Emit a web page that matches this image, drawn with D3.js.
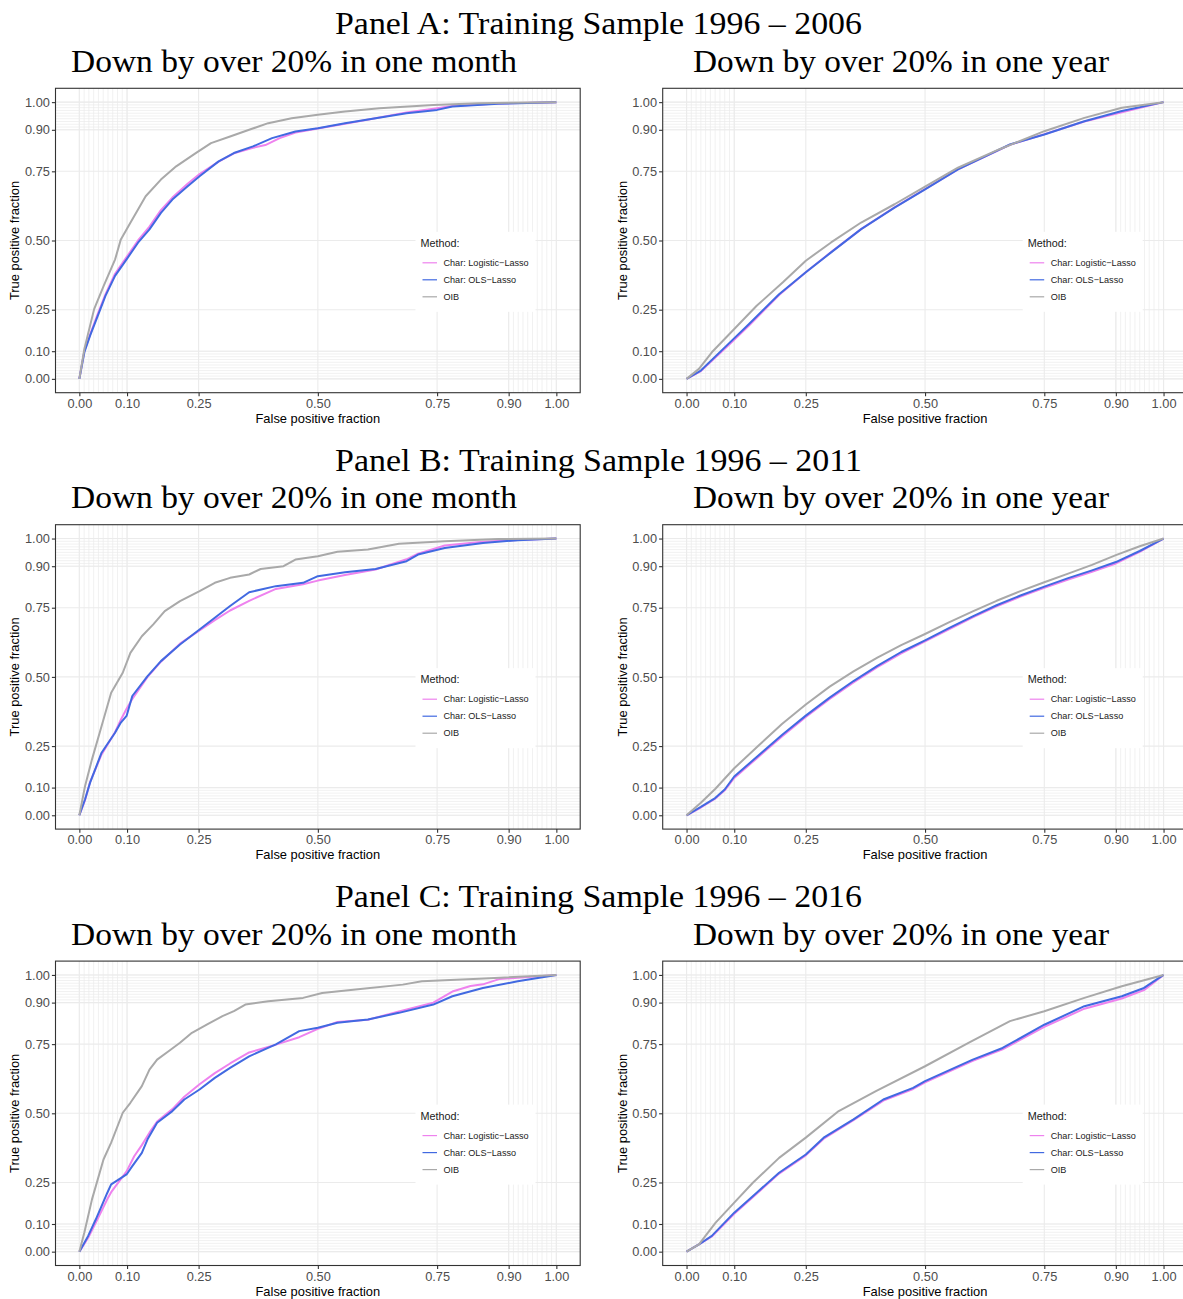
<!DOCTYPE html>
<html>
<head>
<meta charset="utf-8">
<script src="https://cdn.jsdelivr.net/npm/d3@7"></script>
<style>
  body { margin: 0; background: #fff; }
  svg { display: block; }
</style>
</head>
<body>
<svg id="canvas" width="1183" height="1299"></svg>
<script>
// tick positions used by plotROC's style
let majorBreaks = [0, 0.1, 0.25, 0.5, 0.75, 0.9, 1];
let majorLabels = ['0.00', '0.10', '0.25', '0.50', '0.75', '0.90', '1.00'];
let minorBreaks = [0, 0.01, 0.02, 0.03, 0.04, 0.05, 0.06, 0.07, 0.08, 0.09, 0.1,
                   0.9, 0.91, 0.92, 0.93, 0.94, 0.95, 0.96, 0.97, 0.98, 0.99, 1];

let panelTitles = ['Panel A: Training Sample 1996 \u2013 2006',
                   'Panel B: Training Sample 1996 \u2013 2011',
                   'Panel C: Training Sample 1996 \u2013 2016'];
let plotTitles = ['Down by over 20% in one month', 'Down by over 20% in one year'];

let methods = ['Char: Logistic\u2212Lasso', 'Char: OLS\u2212Lasso', 'OIB'];
let methodColors = ['#EE82EE', '#4169E1', '#A9A9A9'];

// [false positive fraction, true positive fraction]
let aMonthLogit = [[0,0],[0.0105,0.10],[0.0225,0.16],[0.0386,0.235],[0.0547,0.305],[0.0748,0.38],[0.099,0.44],[0.123,0.50],[0.147,0.55],[0.171,0.61],[0.195,0.655],[0.227,0.705],[0.252,0.74],[0.292,0.785],[0.324,0.815],[0.364,0.835],[0.39,0.845],[0.42,0.87],[0.453,0.89],[0.5,0.905],[0.557,0.922],[0.621,0.942],[0.686,0.963],[0.75,0.978],[0.782,0.986],[0.878,0.995],[1,1]];
let aMonthOls = [[0,0],[0.0105,0.096],[0.0225,0.156],[0.0386,0.228],[0.0547,0.30],[0.0748,0.372],[0.099,0.432],[0.123,0.492],[0.147,0.54],[0.171,0.60],[0.195,0.648],[0.227,0.696],[0.252,0.732],[0.292,0.786],[0.324,0.816],[0.364,0.84],[0.404,0.87],[0.453,0.894],[0.5,0.906],[0.557,0.924],[0.621,0.942],[0.686,0.96],[0.75,0.972],[0.782,0.984],[0.878,0.994],[1,1]];
let aMonthOib = [[0,0],[0.0105,0.108],[0.031,0.252],[0.051,0.336],[0.075,0.432],[0.087,0.504],[0.107,0.564],[0.139,0.66],[0.171,0.72],[0.203,0.768],[0.244,0.816],[0.276,0.852],[0.316,0.876],[0.356,0.90],[0.396,0.924],[0.445,0.942],[0.5,0.954],[0.557,0.966],[0.629,0.978],[0.742,0.99],[0.838,0.996],[1,1]];

let aYearLogit = [[0,0],[0.03,0.028],[0.084,0.115],[0.131,0.193],[0.194,0.303],[0.25,0.385],[0.303,0.458],[0.366,0.541],[0.436,0.62],[0.5,0.686],[0.569,0.757],[0.678,0.846],[0.75,0.884],[0.834,0.93],[0.9125,0.963],[1,1]];
let aYearOls = [[0,0],[0.03,0.03],[0.084,0.12],[0.131,0.198],[0.194,0.306],[0.25,0.385],[0.303,0.457],[0.366,0.541],[0.436,0.619],[0.5,0.685],[0.569,0.757],[0.678,0.847],[0.75,0.883],[0.834,0.931],[0.9125,0.968],[1,1]];
let aYearOib = [[0,0],[0.026,0.036],[0.053,0.096],[0.1,0.18],[0.147,0.264],[0.202,0.349],[0.25,0.427],[0.303,0.493],[0.366,0.565],[0.436,0.631],[0.5,0.695],[0.569,0.763],[0.655,0.829],[0.75,0.895],[0.834,0.943],[0.9125,0.98],[1,1]];

let bMonthLogit = [[0,0],[0.012,0.055],[0.0225,0.12],[0.0466,0.22],[0.0748,0.30],[0.087,0.345],[0.099,0.385],[0.111,0.42],[0.143,0.50],[0.171,0.555],[0.211,0.62],[0.252,0.668],[0.284,0.705],[0.316,0.74],[0.356,0.775],[0.412,0.818],[0.469,0.835],[0.5,0.848],[0.557,0.868],[0.621,0.888],[0.686,0.925],[0.71,0.945],[0.766,0.975],[0.846,0.988],[0.919,0.995],[1,1]];
let bMonthOls = [[0,0],[0.012,0.058],[0.0225,0.118],[0.0466,0.226],[0.0748,0.298],[0.087,0.335],[0.099,0.359],[0.111,0.431],[0.143,0.503],[0.171,0.557],[0.211,0.617],[0.252,0.671],[0.284,0.714],[0.316,0.756],[0.356,0.806],[0.412,0.828],[0.469,0.84],[0.5,0.864],[0.557,0.878],[0.621,0.89],[0.686,0.918],[0.71,0.942],[0.766,0.966],[0.846,0.984],[0.919,0.994],[1,1]];
let bMonthOib = [[0,0],[0.012,0.106],[0.0265,0.202],[0.0426,0.298],[0.0667,0.443],[0.091,0.515],[0.107,0.587],[0.131,0.647],[0.155,0.69],[0.179,0.738],[0.211,0.774],[0.252,0.81],[0.284,0.84],[0.316,0.858],[0.356,0.87],[0.38,0.89],[0.428,0.90],[0.453,0.924],[0.5,0.936],[0.541,0.952],[0.605,0.96],[0.67,0.981],[0.766,0.99],[0.878,0.998],[1,1]];

let bYearLogit = [[0,0],[0.03,0.028],[0.06,0.06],[0.08,0.09],[0.1,0.135],[0.15,0.21],[0.2,0.285],[0.25,0.355],[0.3,0.42],[0.35,0.48],[0.4,0.535],[0.45,0.585],[0.5,0.628],[0.55,0.672],[0.6,0.715],[0.65,0.755],[0.7,0.79],[0.75,0.822],[0.8,0.852],[0.85,0.88],[0.9,0.91],[0.95,0.952],[1,1]];
let bYearOls = [[0,0],[0.03,0.03],[0.06,0.062],[0.08,0.093],[0.1,0.14],[0.15,0.215],[0.2,0.29],[0.25,0.36],[0.3,0.425],[0.35,0.485],[0.4,0.54],[0.45,0.59],[0.5,0.632],[0.55,0.676],[0.6,0.719],[0.65,0.759],[0.7,0.794],[0.75,0.826],[0.8,0.857],[0.85,0.885],[0.9,0.915],[0.95,0.955],[1,1]];
let bYearOib = [[0,0],[0.03,0.045],[0.06,0.095],[0.1,0.17],[0.15,0.25],[0.2,0.33],[0.25,0.40],[0.3,0.465],[0.35,0.52],[0.4,0.57],[0.45,0.615],[0.5,0.655],[0.55,0.697],[0.6,0.737],[0.65,0.775],[0.7,0.81],[0.75,0.842],[0.8,0.873],[0.85,0.905],[0.9,0.94],[0.95,0.972],[1,1]];

let cMonthLogit = [[0,0],[0.0185,0.05],[0.0346,0.105],[0.0587,0.19],[0.0667,0.215],[0.099,0.29],[0.115,0.345],[0.131,0.385],[0.147,0.43],[0.163,0.47],[0.195,0.515],[0.22,0.56],[0.252,0.605],[0.284,0.645],[0.316,0.68],[0.356,0.72],[0.412,0.748],[0.461,0.775],[0.5,0.805],[0.541,0.83],[0.605,0.838],[0.67,0.868],[0.742,0.9],[0.782,0.94],[0.82,0.96],[0.846,0.966],[0.88,0.985],[0.919,0.99],[1,1]];
let cMonthOls = [[0,0],[0.0185,0.057],[0.0346,0.117],[0.0587,0.213],[0.0667,0.243],[0.099,0.279],[0.111,0.309],[0.131,0.357],[0.143,0.406],[0.163,0.466],[0.195,0.508],[0.22,0.55],[0.252,0.586],[0.284,0.628],[0.316,0.664],[0.356,0.706],[0.412,0.749],[0.461,0.797],[0.5,0.809],[0.541,0.827],[0.605,0.839],[0.67,0.863],[0.742,0.893],[0.782,0.923],[0.846,0.953],[0.919,0.977],[1,1]];
let cMonthOib = [[0,0],[0.0105,0.069],[0.0265,0.189],[0.0506,0.333],[0.0667,0.394],[0.091,0.502],[0.107,0.538],[0.131,0.598],[0.147,0.658],[0.163,0.694],[0.187,0.724],[0.211,0.755],[0.236,0.791],[0.268,0.821],[0.30,0.851],[0.324,0.869],[0.348,0.893],[0.396,0.905],[0.469,0.917],[0.509,0.935],[0.589,0.949],[0.678,0.965],[0.718,0.977],[0.838,0.986],[1,1]];

let cYearLogit = [[0,0],[0.026,0.026],[0.053,0.055],[0.1,0.137],[0.147,0.209],[0.194,0.282],[0.25,0.348],[0.2875,0.408],[0.35,0.475],[0.4125,0.546],[0.475,0.588],[0.5,0.612],[0.6,0.69],[0.6625,0.731],[0.75,0.812],[0.834,0.878],[0.9125,0.915],[0.959,0.945],[1,1]];
let cYearOls = [[0,0],[0.026,0.026],[0.053,0.057],[0.1,0.141],[0.147,0.213],[0.194,0.285],[0.25,0.351],[0.2875,0.412],[0.35,0.478],[0.4125,0.55],[0.475,0.592],[0.5,0.616],[0.6,0.694],[0.6625,0.736],[0.75,0.82],[0.834,0.887],[0.9125,0.923],[0.959,0.953],[1,1]];
let cYearOib = [[0,0],[0.026,0.026],[0.061,0.105],[0.1,0.177],[0.139,0.249],[0.194,0.339],[0.25,0.412],[0.319,0.508],[0.397,0.58],[0.5,0.67],[0.592,0.755],[0.678,0.833],[0.75,0.869],[0.834,0.917],[0.9125,0.959],[1,1]];

let rows = [
  [[aMonthLogit, aMonthOls, aMonthOib], [aYearLogit, aYearOls, aYearOib]],
  [[bMonthLogit, bMonthOls, bMonthOib], [bYearLogit, bYearOls, bYearOib]],
  [[cMonthLogit, cMonthOls, cMonthOib], [cYearLogit, cYearOls, cYearOib]]
];

let canvas = d3.select('#canvas');
canvas.append('rect').attr('width', 1183).attr('height', 1299).attr('fill', '#fff');

let rowStep = 436.4;
let panelLefts = [55.5, 662.7];
let panelW = 524.7;
let panelH = 304.4;
let sans = 'Liberation Sans, Arial, Helvetica, sans-serif';
let serif = 'Liberation Serif, Times New Roman, serif';

let xScale = d3.scaleLinear().domain([-0.05, 1.05]).range([0, panelW]);
let yScale = d3.scaleLinear().domain([-0.05, 1.05]).range([panelH, 0]);

let drawPlot = (left, top, series) => {
  let g = canvas.append('g').attr('transform', `translate(${left},${top})`);

  // grid: minor first, then major
  g.selectAll('.vminor').data(minorBreaks).enter().append('line')
    .attr('x1', d => xScale(d)).attr('x2', d => xScale(d))
    .attr('y1', 0).attr('y2', panelH)
    .attr('stroke', '#EBEBEB').attr('stroke-width', 0.7);
  g.selectAll('.hminor').data(minorBreaks).enter().append('line')
    .attr('y1', d => yScale(d)).attr('y2', d => yScale(d))
    .attr('x1', 0).attr('x2', panelW)
    .attr('stroke', '#EBEBEB').attr('stroke-width', 0.7);
  g.selectAll('.vmajor').data(majorBreaks).enter().append('line')
    .attr('x1', d => xScale(d)).attr('x2', d => xScale(d))
    .attr('y1', 0).attr('y2', panelH)
    .attr('stroke', '#EBEBEB').attr('stroke-width', 1.1);
  g.selectAll('.hmajor').data(majorBreaks).enter().append('line')
    .attr('y1', d => yScale(d)).attr('y2', d => yScale(d))
    .attr('x1', 0).attr('x2', panelW)
    .attr('stroke', '#EBEBEB').attr('stroke-width', 1.1);

  let line = d3.line().x(d => xScale(d[0])).y(d => yScale(d[1]));
  series.forEach((s, i) => {
    g.append('path')
      .datum(s)
      .attr('d', line)
      .attr('fill', 'none')
      .attr('stroke', methodColors[i])
      .attr('stroke-width', 2)
      .attr('stroke-linejoin', 'round');
  });

  // legend inside the panel
  let lg = g.append('g').attr('transform', 'translate(360,143.5)');
  lg.append('rect').attr('width', 120).attr('height', 80).attr('fill', '#fff');
  lg.append('text').attr('x', 5).attr('y', 11.5).attr('dy', '0.35em')
    .attr('font-family', sans).attr('font-size', 10.8).attr('fill', '#1a1a1a')
    .text('Method:');
  methods.forEach((m, i) => {
    let cy = 31 + i * 17;
    lg.append('line').attr('x1', 7).attr('x2', 21.5).attr('y1', cy).attr('y2', cy)
      .attr('stroke', methodColors[i]).attr('stroke-width', 1.2);
    lg.append('text').attr('x', 28).attr('y', cy).attr('dy', '0.35em')
      .attr('font-family', sans).attr('font-size', 9.1).attr('fill', '#1a1a1a')
      .text(m);
  });

  // border
  g.append('rect').attr('width', panelW).attr('height', panelH)
    .attr('fill', 'none').attr('stroke', '#333333').attr('stroke-width', 1.1);

  let xAxis = d3.axisBottom(xScale).tickValues(majorBreaks)
    .tickFormat((d, i) => majorLabels[i]).tickSizeInner(3.6).tickSizeOuter(0).tickPadding(2.5);
  let yAxis = d3.axisLeft(yScale).tickValues(majorBreaks)
    .tickFormat((d, i) => majorLabels[i]).tickSizeInner(3.6).tickSizeOuter(0).tickPadding(2);

  let xg = g.append('g').attr('transform', `translate(0,${panelH})`).call(xAxis);
  let yg = g.append('g').call(yAxis);
  [xg, yg].forEach(ax => {
    ax.select('.domain').remove();
    ax.selectAll('.tick line').attr('stroke', '#333333').attr('stroke-width', 1.1);
    ax.selectAll('.tick text').attr('font-family', sans).attr('font-size', 12.8).attr('fill', '#4D4D4D');
  });

  g.append('text')
    .attr('x', panelW / 2).attr('y', panelH + 25.5).attr('dy', '0.35em')
    .attr('text-anchor', 'middle').attr('font-family', sans).attr('font-size', 12.9)
    .text('False positive fraction');
  g.append('text')
    .attr('transform', `translate(-40.6,${panelH / 2}) rotate(-90)`)
    .attr('dy', '0.35em')
    .attr('text-anchor', 'middle').attr('font-family', sans).attr('font-size', 12.9)
    .text('True positive fraction');
};

rows.forEach((row, r) => {
  let off = r * rowStep;
  canvas.append('text')
    .attr('x', 598.5).attr('y', 34.3 + off)
    .attr('text-anchor', 'middle').attr('font-family', serif).attr('font-size', 31.5)
    .attr('textLength', 527).attr('lengthAdjust', 'spacingAndGlyphs')
    .text(panelTitles[r]);
  [294, 901].forEach((cx, c) => {
    canvas.append('text')
      .attr('x', cx).attr('y', 71.7 + off)
      .attr('text-anchor', 'middle').attr('font-family', serif).attr('font-size', 30.5)
      .attr('textLength', c === 0 ? 446 : 416).attr('lengthAdjust', 'spacingAndGlyphs')
      .text(plotTitles[c]);
  });
  row.forEach((series, c) => {
    drawPlot(panelLefts[c], 88.3 + off, series);
  });
});
</script>
</body>
</html>
